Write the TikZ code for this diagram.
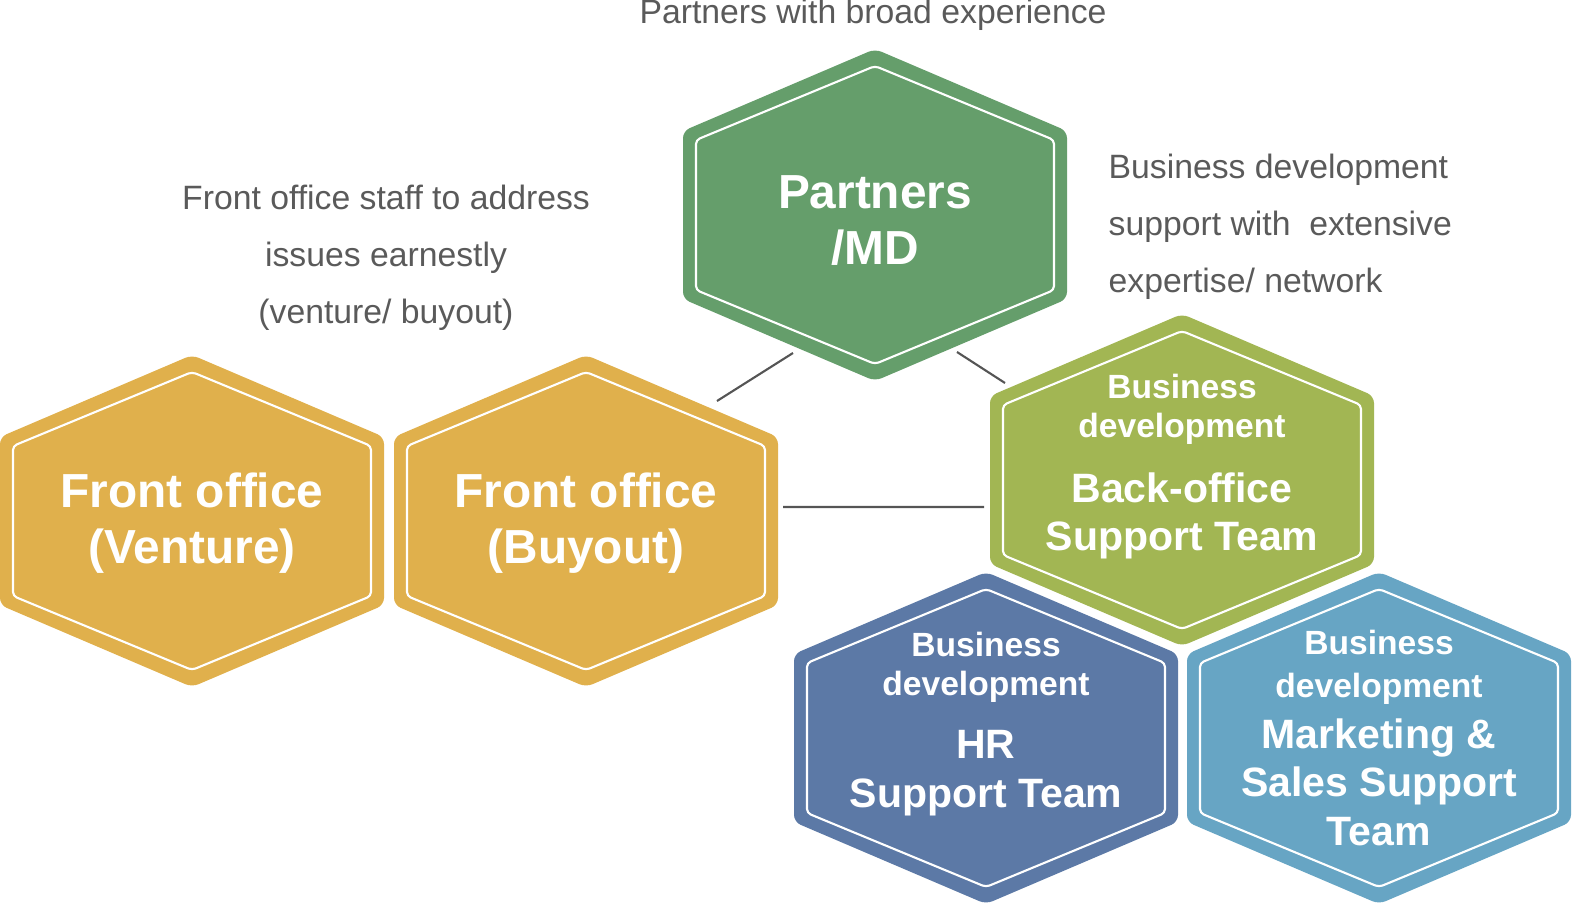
\documentclass[tikz,border=0pt]{standalone}
\usepackage{fontspec}
\setmainfont{Liberation Sans}
\usetikzlibrary{backgrounds}

\definecolor{partnergreen}{HTML}{659E6B}
\definecolor{frontgold}{HTML}{E0B04C}
\definecolor{backolive}{HTML}{A2B653}
\definecolor{hrblue}{HTML}{5C79A6}
\definecolor{mktblue}{HTML}{67A5C4}
\definecolor{notegray}{HTML}{5A5A5A}
\definecolor{linkgray}{HTML}{555555}

\newcommand{\frontfont}{\fontsize{13.6}{15.9}\selectfont}
\newcommand{\bizfont}{\fontsize{9.56}{14}\selectfont}
\newcommand{\teamfont}{\fontsize{11.67}{14}\selectfont}
\newcommand{\notefont}{\fontsize{9.6}{16.2}\selectfont}

\begin{document}
\begin{tikzpicture}[
    hexcell/.style={inner sep=0pt, align=center, text=white, text depth=0pt},
    bigcell/.style={hexcell, font=\bfseries\frontfont},
    teamcell/.style={hexcell, font=\bfseries\bizfont},
    note/.style={text=notegray, font=\notefont, inner sep=0pt, text depth=0pt},
    cellline/.style={white, line width=0.6pt, rounded corners=0.04cm},
    link/.style={draw=linkgray, line width=0.6pt}
]
\useasboundingbox (0,0) rectangle (15.72,-9.06);

% Hexagon cells
\node[bigcell, text height=0.98cm] (partners) at (8.75,-2.15) {Partners\\/MD};
\node[bigcell, text height=0.84cm] (venture) at (1.92,-5.21) {Front office\\(Venture)};
\node[bigcell, text height=0.84cm] (buyout) at (5.86,-5.21) {Front office\\(Buyout)};
\node[teamcell, text height=1.40cm] (backoffice) at (11.82,-4.80)
    {Business\\[-2.9pt]development\\[4.5pt]\teamfont Back-office\\[-0.6pt]\teamfont Support Team};
\node[teamcell, text height=1.38cm] (hrteam) at (9.86,-7.38)
    {Business\\[-2.9pt]development\\[3.9pt]\teamfont HR\\[-0.3pt]\teamfont Support Team};
\node[teamcell, text height=2.14cm] (marketing) at (13.79,-7.38)
    {Business\\[-2pt]development\\[0.5pt]\teamfont Marketing \&\\[-0.1pt]\teamfont Sales Support\\[-0.3pt]\teamfont Team};

% Hexagon shapes behind the texts
\begin{scope}[on background layer]
\foreach \cell/\tint in {partners/partnergreen, venture/frontgold, buyout/frontgold,
        backoffice/backolive, hrteam/hrblue, marketing/mktblue} {
    \fill[\tint, rounded corners=0.07cm, shift={(\cell.center)}]
        (0,1.66) -- (1.92,0.84) -- (1.92,-0.84) -- (0,-1.66) -- (-1.92,-0.84) -- (-1.92,0.84) -- cycle;
    \draw[cellline, shift={(\cell.center)}]
        (0,1.49) -- (1.79,0.75) -- (1.79,-0.75) -- (0,-1.49) -- (-1.79,-0.75) -- (-1.79,0.75) -- cycle;
}
\end{scope}

% Notes
\node[note, anchor=base] (topnote) at (8.73,-0.23) {Partners with broad experience};
\node[note, anchor=south, align=center] (frontnote) at (3.86,-3.24)
    {Front office staff to address\\issues earnestly\\(venture/ buyout)};
\node[note, anchor=south west, align=left] (backnote) at (11.08,-2.93)
    {Business development\\support with \ extensive\\expertise/ network};

% Links
\coordinate (pbA) at ([xshift=-0.82cm,yshift=-1.38cm]partners.center);
\coordinate (pbB) at ([xshift=1.31cm,yshift=1.20cm]buyout.center);
\coordinate (pkA) at ([xshift=0.82cm,yshift=-1.37cm]partners.center);
\coordinate (pkB) at ([xshift=-1.77cm,yshift=0.97cm]backoffice.center);
\coordinate (bkA) at ([xshift=1.97cm,yshift=0.14cm]buyout.center);
\coordinate (bkB) at ([xshift=-1.98cm,yshift=-0.27cm]backoffice.center);
\draw[link] (pbA) -- (pbB);
\draw[link] (pkA) -- (pkB);
\draw[link] (bkA) -- (bkB);

\end{tikzpicture}
\end{document}
